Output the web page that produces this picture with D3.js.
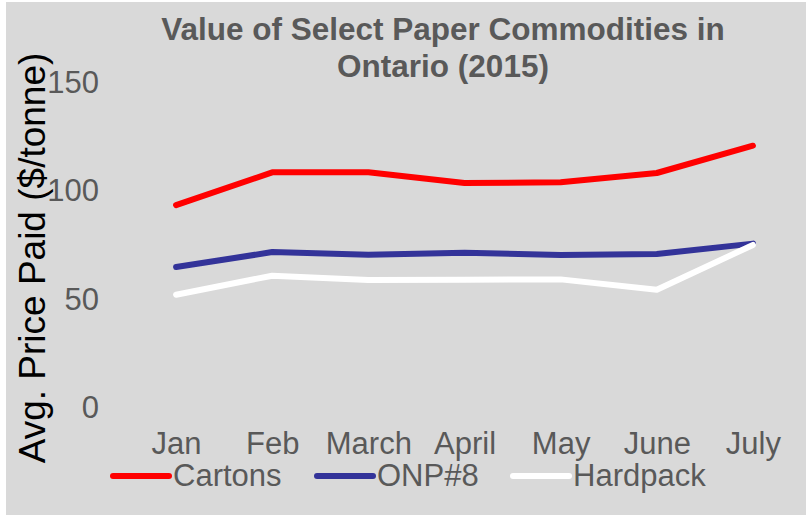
<!DOCTYPE html>
<html>
<head>
<meta charset="utf-8">
<script src="https://cdn.jsdelivr.net/npm/d3@7"></script>
<style>
  html, body { margin: 0; padding: 0; background: #ffffff; }
  svg { display: block; }
  text { font-family: "Liberation Sans", Arial, sans-serif; }
</style>
</head>
<body>
<svg id="chart" width="806" height="515"></svg>
<script>
const months = ["Jan", "Feb", "March", "April", "May", "June", "July"];
const cartons = [93.2, 108.3, 108.3, 103.4, 103.7, 108.0, 120.6];
const onp8 = [64.6, 71.5, 70.3, 71.2, 70.2, 70.6, 75.4];
const hardpack = [51.8, 60.6, 58.6, 58.7, 58.9, 54.1, 74.8];
const seriesNames = ["Cartons", "ONP#8", "Hardpack"];
const seriesColors = ["#ff0000", "#333399", "#ffffff"];
const yTicks = [0, 50, 100, 150];
const titleLines = ["Value of Select Paper Commodities in", "Ontario (2015)"];
const yAxisTitle = "Avg. Price Paid ($/tonne)";

const seriesData = [cartons, onp8, hardpack];

const svg = d3.select("#chart");
const W = 806, H = 515;

// background
svg.append("rect").attr("x", 6).attr("y", 2).attr("width", W - 6).attr("height", H - 2).attr("fill", "#d9d9d9");

const x = d3.scalePoint().domain(months).range([128, 801]).padding(0.5);
const y = d3.scaleLinear().domain([0, 150]).range([407, 82]);

// Title
const title = svg.append("text")
  .attr("text-anchor", "middle")
  .attr("fill", "#595959")
  .attr("font-weight", "bold")
  .attr("font-size", 31.5);
titleLines.forEach((t, i) => {
  title.append("tspan").attr("x", 443).attr("y", 39.5 + i * 37).text(t);
});

// Y axis (labels only)
const yAxis = d3.axisLeft(y).tickValues(yTicks).tickSize(0).tickPadding(0);
const yg = svg.append("g").attr("transform", "translate(99,0)").call(yAxis);
yg.select(".domain").remove();
yg.selectAll("text")
  .attr("font-family", "'Liberation Sans', Arial, sans-serif")
  .attr("font-size", 31)
  .attr("fill", "#595959")
  .attr("dy", null)
  .attr("dominant-baseline", "central");

// X axis (labels only)
const xAxis = d3.axisBottom(x).tickSize(0).tickPadding(0);
const xg = svg.append("g").attr("transform", "translate(0,454)").call(xAxis);
xg.select(".domain").remove();
xg.selectAll("text")
  .attr("font-family", "'Liberation Sans', Arial, sans-serif")
  .attr("font-size", 31)
  .attr("fill", "#595959")
  .attr("dy", null)
  .attr("y", 0);

// Y axis title
svg.append("text")
  .attr("transform", "translate(45,258) rotate(-90)")
  .attr("text-anchor", "middle")
  .attr("font-size", 37)
  .attr("fill", "#000000")
  .text(yAxisTitle);

// Lines
const line = d3.line().x((d, i) => x(months[i])).y(d => y(d));
seriesData.forEach((vals, si) => {
  svg.append("path")
    .datum(vals)
    .attr("d", line)
    .attr("fill", "none")
    .attr("stroke", seriesColors[si])
    .attr("stroke-width", 6)
    .attr("stroke-linecap", "round")
    .attr("stroke-linejoin", "round");
});

// Legend
const legendX = [113, 317, 513];
const legend = svg.append("g");
seriesNames.forEach((name, i) => {
  const g = legend.append("g").attr("transform", `translate(${legendX[i]},476)`);
  g.append("line").attr("x1", 0).attr("x2", 56).attr("y1", 0).attr("y2", 0)
    .attr("stroke", seriesColors[i]).attr("stroke-width", 6).attr("stroke-linecap", "round");
  g.append("text").attr("x", 60).attr("y", 10).attr("font-size", 31).attr("fill", "#595959").text(name);
});
</script>
</body>
</html>
